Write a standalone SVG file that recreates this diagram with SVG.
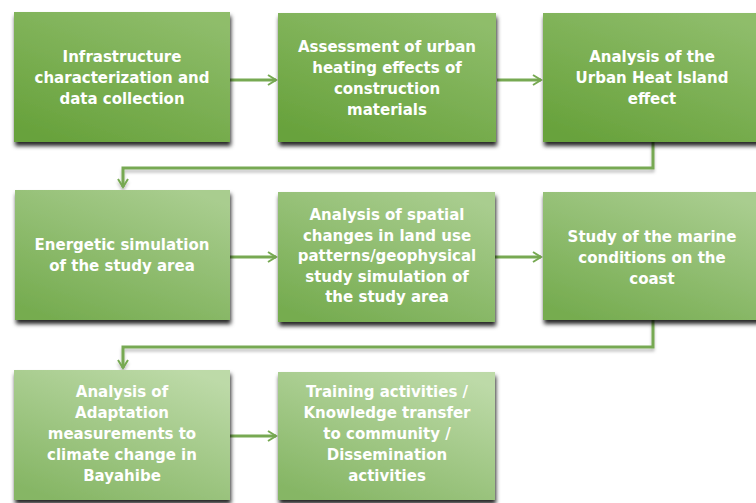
<svg xmlns="http://www.w3.org/2000/svg" width="756" height="503" viewBox="0 0 756 503">
  <defs>
    <linearGradient id="g1" x1="0.2" y1="1" x2="0.8" y2="0">
      <stop offset="0" stop-color="#68a23c"/>
      <stop offset="1" stop-color="#8fbd6b"/>
    </linearGradient>
    <linearGradient id="g2" x1="0.2" y1="1" x2="0.8" y2="0">
      <stop offset="0" stop-color="#76ac50"/>
      <stop offset="1" stop-color="#a9cd8f"/>
    </linearGradient>
    <linearGradient id="g3" x1="0.2" y1="1" x2="0.8" y2="0">
      <stop offset="0" stop-color="#86b665"/>
      <stop offset="1" stop-color="#bddaa8"/>
    </linearGradient>
    <filter id="shadow" x="-10%" y="-10%" width="125%" height="130%">
      <feDropShadow dx="1" dy="4" stdDeviation="2.2" flood-color="#000" flood-opacity="0.85"/>
    </filter>
    <filter id="lineShadow" x="-10%" y="-50%" width="120%" height="200%">
      <feDropShadow dx="0" dy="3" stdDeviation="1.5" flood-color="#000" flood-opacity="0.25"/>
    </filter>
    <marker id="chev" viewBox="0 0 12 12" refX="10" refY="6" markerWidth="12" markerHeight="12" markerUnits="userSpaceOnUse" orient="auto">
      <path d="M2,1 L10,6 L2,11" fill="none" stroke="#77a952" stroke-width="2"/>
    </marker>
    <style>
      .box { stroke: none; filter: url(#shadow); }
      .lbl { font-family: "DejaVu Sans", "Liberation Sans", sans-serif; font-weight: bold; font-size: 15px; fill: #ffffff; text-anchor: middle; }
      .conn { fill: none; stroke: #77a952; stroke-width: 3; marker-end: url(#chev); }
      .elbow { filter: url(#lineShadow); }
    </style>
  </defs>

  <rect width="756" height="503" fill="#ffffff"/>

  <!-- connectors -->
  <g id="connectors">
    <line class="conn" x1="230" y1="80" x2="276" y2="80"/>
    <line class="conn" x1="497" y1="80" x2="541" y2="80"/>
    <path class="conn elbow" d="M653,142 V168 H123 V187"/>
    <line class="conn" x1="230" y1="257" x2="276" y2="257"/>
    <line class="conn" x1="495" y1="257" x2="541" y2="257"/>
    <path class="conn elbow" d="M653,320 V347 H123 V368"/>
    <line class="conn" x1="230" y1="436" x2="276" y2="436"/>
  </g>

  <!-- row 1 -->
  <g id="n1">
    <rect class="box" x="14" y="12" width="216" height="130" fill="url(#g1)"/>
    <text class="lbl" x="122" y="62">Infrastructure</text>
    <text class="lbl" x="122" y="83">characterization and</text>
    <text class="lbl" x="122" y="104">data collection</text>
  </g>
  <g id="n2">
    <rect class="box" x="278" y="13" width="218" height="129" fill="url(#g1)"/>
    <text class="lbl" x="387" y="52">Assessment of urban</text>
    <text class="lbl" x="387" y="73">heating effects of</text>
    <text class="lbl" x="387" y="94">construction</text>
    <text class="lbl" x="387" y="115">materials</text>
  </g>
  <g id="n3">
    <rect class="box" x="543" y="13" width="218" height="129" fill="url(#g1)"/>
    <text class="lbl" x="652" y="62">Analysis of the</text>
    <text class="lbl" x="652" y="83">Urban Heat Island</text>
    <text class="lbl" x="652" y="104">effect</text>
  </g>

  <!-- row 2 -->
  <g id="n4">
    <rect class="box" x="15" y="190" width="215" height="130" fill="url(#g2)"/>
    <text class="lbl" x="122" y="250">Energetic simulation</text>
    <text class="lbl" x="122" y="271">of the study area</text>
  </g>
  <g id="n5">
    <rect class="box" x="278" y="192" width="217" height="130" fill="url(#g2)"/>
    <text class="lbl" x="387" y="220">Analysis of spatial</text>
    <text class="lbl" x="387" y="240.5">changes in land use</text>
    <text class="lbl" x="387" y="261">patterns/geophysical</text>
    <text class="lbl" x="387" y="281.5">study simulation of</text>
    <text class="lbl" x="387" y="302">the study area</text>
  </g>
  <g id="n6">
    <rect class="box" x="543" y="192" width="218" height="128" fill="url(#g2)"/>
    <text class="lbl" x="652" y="242">Study of the marine</text>
    <text class="lbl" x="652" y="263">conditions on the</text>
    <text class="lbl" x="652" y="284">coast</text>
  </g>

  <!-- row 3 -->
  <g id="n7">
    <rect class="box" x="14" y="370" width="216" height="130" fill="url(#g3)"/>
    <text class="lbl" x="122" y="397">Analysis of</text>
    <text class="lbl" x="122" y="418">Adaptation</text>
    <text class="lbl" x="122" y="439">measurements to</text>
    <text class="lbl" x="122" y="460">climate change in</text>
    <text class="lbl" x="122" y="481">Bayahibe</text>
  </g>
  <g id="n8">
    <rect class="box" x="278" y="372" width="217" height="128" fill="url(#g3)"/>
    <text class="lbl" x="387" y="397">Training activities /</text>
    <text class="lbl" x="387" y="418">Knowledge transfer</text>
    <text class="lbl" x="387" y="439">to community /</text>
    <text class="lbl" x="387" y="460">Dissemination</text>
    <text class="lbl" x="387" y="481">activities</text>
  </g>
</svg>
